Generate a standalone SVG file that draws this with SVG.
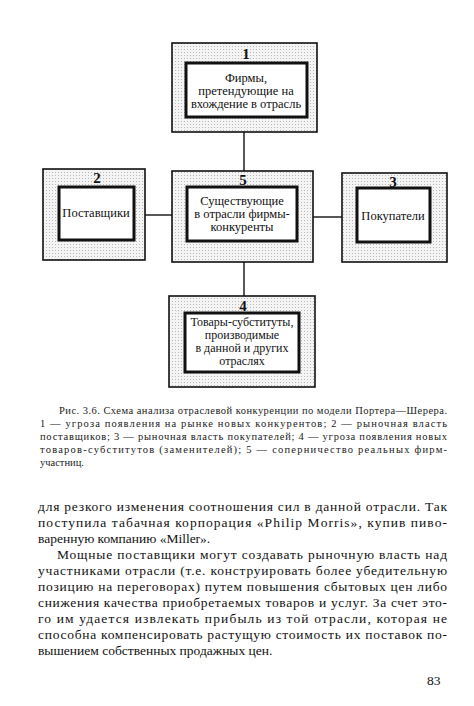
<svg xmlns="http://www.w3.org/2000/svg" width="474" height="706" viewBox="0 0 474 706">
<defs>
<pattern id="dots" width="3" height="3" patternUnits="userSpaceOnUse">
<rect width="3" height="3" fill="#f4f4f4"/>
<rect x="1" y="1" width="1" height="1" fill="#b8b8b8"/>
</pattern>
</defs>
<style>
text{font-family:'Liberation Serif','DejaVu Serif','Noto Serif',serif}
.outer{fill:url(#dots);stroke:#111;stroke-width:1.6}
.inner{fill:#fff;stroke:#111;stroke-width:3}
.num{font-weight:bold;font-size:15px;text-anchor:middle;fill:#111}
.lbl{font-size:12.5px;text-anchor:middle;fill:#111}
.sm{font-size:12px}
.cap{font-size:10.5px;fill:#222}
.body{font-size:13.5px;fill:#111}
.conn line{stroke:#111;stroke-width:1.4}
</style>
<rect width="474" height="706" fill="#fff"/>
<g class="conn" id="connectors">
<line x1="244" y1="132" x2="244" y2="171"/>
<line x1="244" y1="262" x2="244" y2="296"/>
<line x1="145" y1="215" x2="172" y2="215"/>
<line x1="313" y1="217" x2="342" y2="217"/>
</g>
<g id="node1">
<rect class="outer" x="172" y="43" width="145" height="89"/>
<rect class="inner" x="186" y="63" width="121" height="54"/>
<text class="num" x="246" y="59">1</text>
<text class="lbl" x="246" y="82">Фирмы,</text>
<text class="lbl" x="246" y="95">претендующие на</text>
<text class="lbl" x="246" y="108">вхождение в отрасль</text>
</g>
<g id="node5">
<rect class="outer" x="172" y="171" width="141" height="91"/>
<rect class="inner" x="187" y="187" width="110" height="54"/>
<text class="num" x="243" y="185">5</text>
<text class="lbl" x="242" y="205">Существующие</text>
<text class="lbl" x="242" y="218">в отрасли фирмы-</text>
<text class="lbl" x="242" y="231">конкуренты</text>
</g>
<g id="node2">
<rect class="outer" x="43" y="169" width="102" height="91"/>
<rect class="inner" x="59" y="187" width="75" height="53"/>
<text class="num" x="97" y="183">2</text>
<text class="lbl" x="96" y="217">Поставщики</text>
</g>
<g id="node3">
<rect class="outer" x="342" y="173" width="105" height="89"/>
<rect class="inner" x="357" y="188" width="73" height="54"/>
<text class="num" x="393" y="187">3</text>
<text class="lbl" x="393" y="220">Покупатели</text>
</g>
<g id="node4">
<rect class="outer" x="169" y="296" width="146" height="91"/>
<rect class="inner" x="185" y="313" width="114" height="59"/>
<text class="num" x="243" y="311">4</text>
<text class="lbl sm" x="242" y="326">Товары-субституты,</text>
<text class="lbl sm" x="242" y="339">производимые</text>
<text class="lbl sm" x="242" y="352">в данной и других</text>
<text class="lbl sm" x="242" y="365">отраслях</text>
</g>
<g id="caption">
<text class="cap" x="59" y="414" textLength="388" lengthAdjust="spacing">Рис. 3.6. Схема анализа отраслевой конкуренции по модели Портера—Шерера.</text>
<text class="cap" x="40" y="427" textLength="407" lengthAdjust="spacing">1 — угроза появления на рынке новых  конкурентов;  2  —  рыночная власть</text>
<text class="cap" x="40" y="440" textLength="407" lengthAdjust="spacing">поставщиков; 3 — рыночная власть покупателей; 4 — угроза появления новых</text>
<text class="cap" x="40" y="453" textLength="407" lengthAdjust="spacing">товаров-субститутов  (заменителей); 5 — соперничество  реальных фирм-</text>
<text class="cap" x="40" y="466">участниц.</text>
</g>
<g id="body">
<text class="body" x="38" y="511" textLength="409" lengthAdjust="spacing">для резкого изменения соотношения сил в данной отрасли. Так</text>
<text class="body" x="38" y="527" textLength="409" lengthAdjust="spacing">поступила табачная корпорация «Philip Morris», купив пиво-</text>
<text class="body" x="38" y="543">варенную компанию «Miller».</text>
<text class="body" x="57" y="559" textLength="390" lengthAdjust="spacing">Мощные поставщики могут создавать рыночную власть над</text>
<text class="body" x="38" y="575" textLength="409" lengthAdjust="spacing">участниками отрасли (т.е. конструировать более убедительную</text>
<text class="body" x="38" y="591" textLength="409" lengthAdjust="spacing">позицию на переговорах) путем повышения сбытовых цен либо</text>
<text class="body" x="38" y="607" textLength="409" lengthAdjust="spacing">снижения качества приобретаемых товаров и услуг. За счет это-</text>
<text class="body" x="38" y="623" textLength="409" lengthAdjust="spacing">го им удается извлекать прибыль из той отрасли, которая не</text>
<text class="body" x="38" y="639" textLength="409" lengthAdjust="spacing">способна компенсировать растущую стоимость их поставок по-</text>
<text class="body" x="38" y="655">вышением собственных продажных цен.</text>
<text class="body" x="427" y="685">83</text>
</g>
</svg>
